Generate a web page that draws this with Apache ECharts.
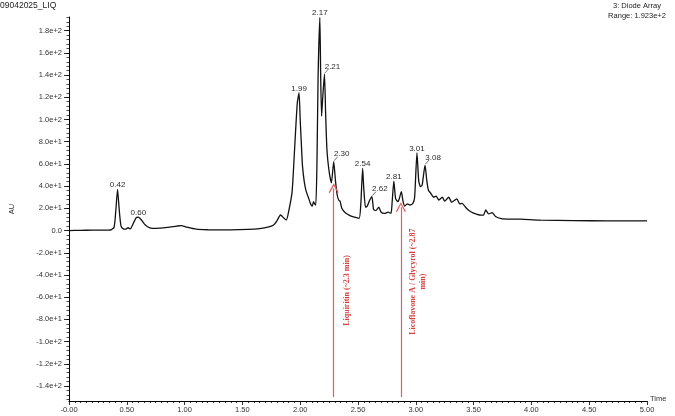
<!DOCTYPE html>
<html>
<head>
<meta charset="utf-8">
<script src="https://cdn.jsdelivr.net/npm/echarts@6/dist/echarts.min.js"></script>
<style>html,body{margin:0;padding:0;background:#fff;}#c{width:675px;height:416px;}</style>
</head>
<body>
<div id="c"></div>
<script>
// ---- data ----
const time = [0.00,0.10,0.20,0.30,0.36,0.39,0.405,0.42,0.435,0.45,0.47,0.49,0.51,0.53,0.55,0.58,0.60,0.63,0.66,0.70,0.75,0.85,0.93,0.97,1.02,1.10,1.20,1.40,1.55,1.65,1.72,1.77,1.80,1.83,1.86,1.88,1.90,1.93,1.955,1.975,1.99,2.00,2.01,2.02,2.035,2.05,2.07,2.09,2.105,2.115,2.125,2.135,2.145,2.155,2.17,2.177,2.185,2.195,2.21,2.22,2.23,2.24,2.255,2.27,2.29,2.305,2.32,2.335,2.345,2.36,2.39,2.43,2.47,2.51,2.525,2.54,2.55,2.565,2.58,2.60,2.62,2.635,2.655,2.68,2.70,2.73,2.76,2.785,2.795,2.81,2.825,2.845,2.855,2.875,2.89,2.905,2.925,2.95,2.975,2.99,3.01,3.025,3.04,3.055,3.08,3.095,3.11,3.13,3.155,3.175,3.20,3.23,3.25,3.285,3.31,3.355,3.38,3.40,3.43,3.46,3.50,3.55,3.585,3.605,3.63,3.66,3.69,3.74,3.82,3.91,4.08,4.37,4.65,5.00];
const au = [0,0.2,0.3,0.3,0.5,3,18,37,18,4,1.5,1.2,2.5,1.5,5,11.5,12,9,5,2.5,2,2.8,4,4.5,3,1.2,0.7,0.6,1,1.8,3,5,9,14,11,9.5,17,35,80,115,124,100,78,58,44,36,30,24,22,26,24,23,60,140,192,140,103,120,141,105,75,62,50,43,62,45,32,27,26.5,20,16,13.5,12,11,25,56,38,21,22,27,30.5,19,18,21,16.5,15.5,16.5,15.5,25,44.5,29,26,28,35,26,22,24,23,24.5,30,70,45,39.5,41,59,45,36,33.5,30,31,27.5,30,26.5,30,25.5,28.5,24,24.5,21,18,15.6,14,13.8,18.5,15,16.2,12.6,10.8,10.3,10.2,9.3,9,8.7,8.7];

const peakTimes  = [0.42, 0.60, 1.99, 2.17, 2.21, 2.29, 2.54, 2.62, 2.81, 3.01, 3.08];
const peakLabels = ['0.42','0.60','1.99','2.17','2.21','2.30','2.54','2.62','2.81','3.01','3.08'];
const leaderPeaks = ['2.21','2.30','2.62','3.08'];

const yTickValues = [-140,-120,-100,-80,-60,-40,-20,0,20,40,60,80,100,120,140,160,180];
const yMinorTickValues = [];
for (let v = -152; v <= 192; v += 4) yMinorTickValues.push(v);

const annotationTimes = [2.29, 2.871];
const annotationTips  = [38, 21];
const annotationBase  = -150;
const annotationTexts = ['Liquiritin (~2.3 min)', 'Licoflavone A / Glycyrol (~2.87\nmin)'];
const annotationTextPos = [[2.406, -54], [3.022, -46]];

// ---- build ----
const trace = time.map((t, i) => [t, au[i]]);
const peaks = peakTimes.map((t, i) => ({ name: peakLabels[i], value: [t, au[time.indexOf(t)]] }));

const FONT = '"Liberation Sans", Arial, sans-serif';
const chart = echarts.init(document.getElementById('c'), null, { renderer: 'canvas' });

const chevron = 'path://M5,0 L10,9 L9,10 L5,2.4 L1,10 L0,9 Z';

chart.setOption({
  backgroundColor: '#fff',
  animation: false,
  grid: { left: 63, right: 28, top: 17, bottom: 15 },
  xAxis: {
    type: 'value', min: 0, max: 5, interval: 0.5,
    name: 'Time', nameLocation: 'end', nameGap: 3,
    nameTextStyle: { fontFamily: FONT, fontSize: 7.5, color: '#333', verticalAlign: 'bottom', padding: [0, 0, -2, 0] },
    axisLine: { onZero: false, lineStyle: { color: '#000', width: 1 } },
    axisTick: { show: true, inside: false, length: 4, lineStyle: { color: '#000', width: 0.8 } },
    minorTick: { show: true, splitNumber: 10, length: 2, lineStyle: { color: '#000', width: 0.8 } },
    axisLabel: { fontFamily: FONT, fontSize: 7.5, color: '#333', margin: 5,
      formatter: v => (v === 0 ? '-0.00' : v.toFixed(2)) },
    splitLine: { show: false }, minorSplitLine: { show: false }
  },
  yAxis: [{
    type: 'value', min: -153.5, max: 192.3,
    name: 'AU', nameLocation: 'middle', nameGap: 53, nameRotate: 90,
    nameTextStyle: { fontFamily: FONT, fontSize: 7.5, color: '#333' },
    axisLine: { onZero: false, lineStyle: { color: '#000', width: 1 } },
    axisTick: { show: true, length: 5, customValues: yTickValues, lineStyle: { color: '#000', width: 0.8 } },
    axisLabel: { fontFamily: FONT, fontSize: 7.5, color: '#333', margin: 7, customValues: yTickValues,
      formatter: v => (v === 0 ? '0.0' : v.toExponential(1)) },
    splitLine: { show: false }
  }, {
    type: 'value', min: -153.5, max: 192.3, position: 'left',
    axisLine: { show: false },
    axisTick: { show: true, length: 2.5, customValues: yMinorTickValues, lineStyle: { color: '#000', width: 0.7 } },
    axisLabel: { show: false },
    splitLine: { show: false }
  }],
  graphic: [
    { type: 'text', left: 0, top: 1, style: { text: '09042025_LIQ', font: '8.5px ' + FONT, fill: '#222' } },
    { type: 'text', x: 637, y: 1, style: { text: '3: Diode Array\nRange: 1.923e+2', font: '7.5px ' + FONT, fill: '#222', align: 'center', lineHeight: 10 } }
  ],
  series: [
    {
      type: 'line', data: trace, showSymbol: false, smooth: 0.2,
      lineStyle: { color: '#111', width: 1.3 }, z: 3
    },
    {
      type: 'custom', z: 4, data: peaks,
      renderItem: function (params, api) {
        const p = api.coord([api.value(0), api.value(1)]);
        const name = peaks[params.dataIndex].name;
        const led = leaderPeaks.indexOf(name) >= 0;
        const children = [
          { type: 'text', x: p[0] + (led ? 8 : 0), y: p[1] - (led ? 3.5 : 0.5),
            style: { text: name, font: '8px ' + FONT, fill: '#2a2a2a', align: 'center', verticalAlign: 'bottom' } }
        ];
        if (led) {
          children.push({ type: 'line', shape: { x1: p[0] + 0.5, y1: p[1] - 1, x2: p[0] + 4, y2: p[1] - 5 },
            style: { stroke: '#333', lineWidth: 0.7 } });
        }
        return { type: 'group', children: children };
      }
    },
    {
      type: 'scatter', symbolSize: 0, z: 5,
      data: annotationTextPos.map((p, i) => ({ name: annotationTexts[i], value: p })),
      label: { show: true, position: 'inside', rotate: 90, formatter: p => p.name,
        fontFamily: '"Liberation Serif", "Times New Roman", serif', fontWeight: 'bold',
        fontSize: 8, color: '#cc1111', lineHeight: 10, align: 'center' },
      markLine: {
        silent: true, symbol: ['none', chevron], symbolSize: [10, 10],
        lineStyle: { color: '#e06060', width: 1.2, type: 'solid' },
        label: { show: false },
        data: annotationTimes.map((t, i) => [{ coord: [t, annotationBase] }, { coord: [t, annotationTips[i]] }])
      }
    }
  ]
});
</script>
</body>
</html>
